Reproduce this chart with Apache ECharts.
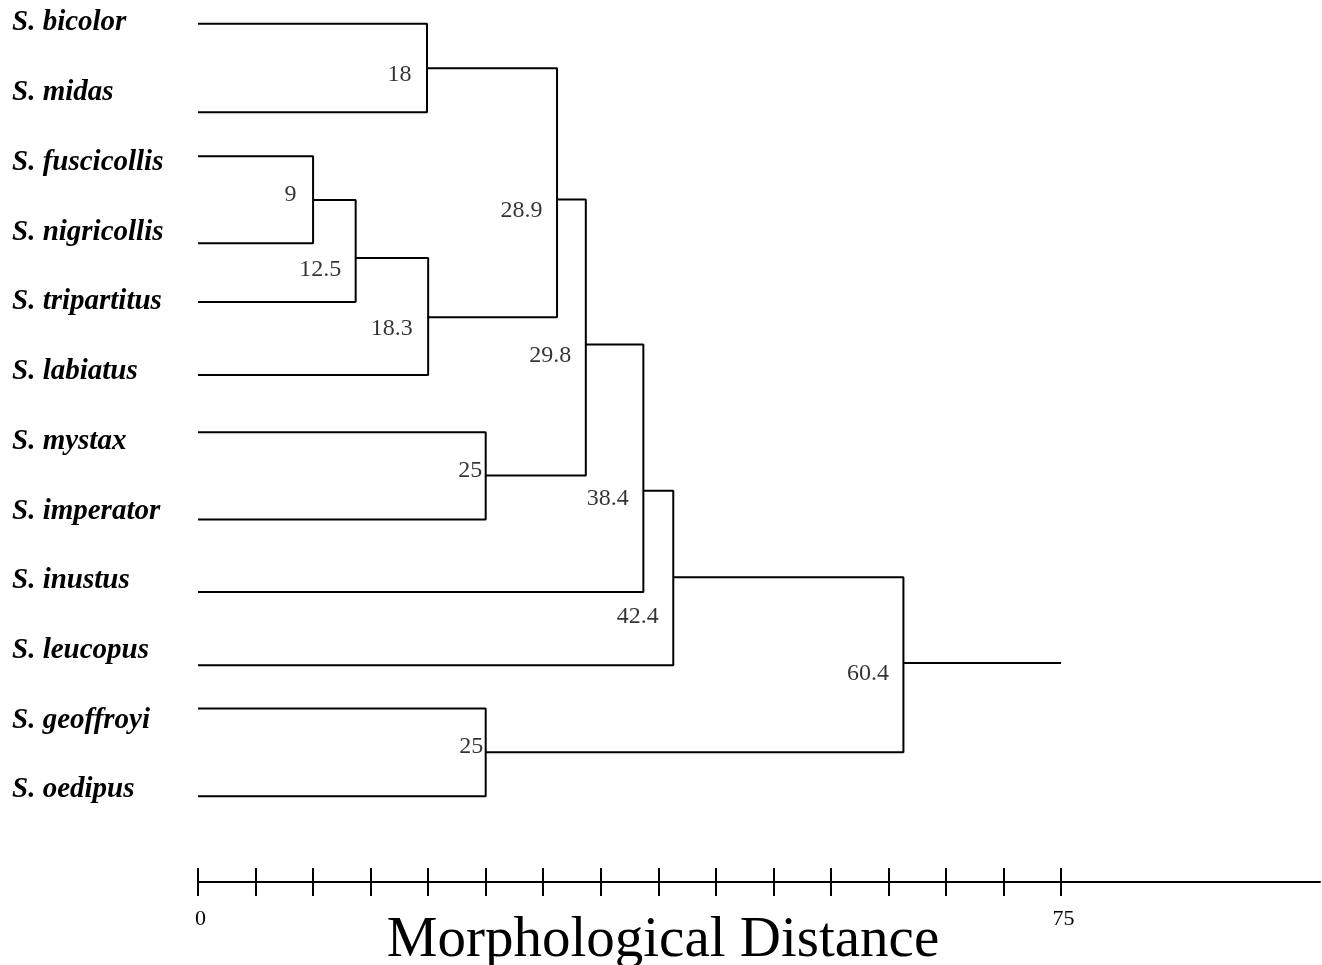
<!DOCTYPE html>
<html>
<head>
<meta charset="utf-8">
<script src="https://cdn.jsdelivr.net/npm/echarts@6/dist/echarts.min.js"></script>
<style>
  html, body { margin: 0; padding: 0; background: #fff; }
  #main { width: 1322px; height: 965px; }
</style>
</head>
<body>
<div id="main"></div>
<script>
// leaves, top to bottom
var species = ['S. bicolor', 'S. midas', 'S. fuscicollis', 'S. nigricollis', 'S. tripartitus', 'S. labiatus',
  'S. mystax', 'S. imperator', 'S. inustus', 'S. leucopus', 'S. geoffroyi', 'S. oedipus'];
// row of each leaf branch (label rows are 0..11)
var leafRows = [0.01, 1.28, 1.91, 3.16, 4.00, 5.05, 5.87, 7.12, 8.16, 9.21, 9.83, 11.09];

// clusters: children are 'L'+leaf index or 'N'+cluster index
var mergeLeft  = ['L0', 'L2', 'N1', 'N2', 'N0', 'L6', 'N4', 'N6', 'N7', 'L10', 'N8'];
var mergeRight = ['L1', 'L3', 'L4', 'L5', 'N3', 'L7', 'N5', 'L8', 'L9', 'L11', 'N9'];
var mergeDist  = [19.9, 10.0, 13.7, 20.0, 31.2, 25.0, 33.7, 38.7, 41.3, 25.0, 61.3];
var mergeRows  = [0.65, 2.54, 3.37, 4.22, 2.53, 6.49, 4.61, 6.71, 7.95, 10.46, 9.18];
var mergeLabels = ['18', '9', '12.5', '18.3', '28.9', '25', '29.8', '38.4', '42.4', '25', '60.4'];
var rootEnd = 75;

var tickValues = [0, 5, 10, 15, 20, 25, 30, 35, 40, 45, 50, 55, 60, 65, 70, 75];
var tickLabels = [0, 75];

// label placement: [gap left of the node, vertical shift]
var labelNudge = [[15, 6], [16, -5], [14, 12], [15, 11], [14, 11], [3, -5], [14, 11], [14, 8], [14, 39], [2, -6], [14, 11]];

function pos(ref) {
  var i = +ref.slice(1);
  return ref[0] === 'L' ? [0, leafRows[i]] : [mergeDist[i], mergeRows[i]];
}

var lineStyle = { color: '#000', width: 2 };
var series = [];
mergeDist.forEach(function (d, i) {
  var a = pos(mergeLeft[i]), b = pos(mergeRight[i]);
  series.push({
    type: 'line', symbol: 'none', silent: true, animation: false,
    lineStyle: lineStyle,
    data: [[a[0], a[1]], [d, a[1]], [d, b[1]], [b[0], b[1]]]
  });
});
var root = mergeDist.length - 1;
series.push({
  type: 'line', symbol: 'none', silent: true, animation: false,
  lineStyle: lineStyle,
  data: [[mergeDist[root], mergeRows[root]], [rootEnd, mergeRows[root]]]
});
series.push({
  type: 'scatter', symbolSize: 1, silent: true, animation: false,
  itemStyle: { color: 'rgba(0,0,0,0)' },
  data: mergeDist.map(function (d, i) {
    return {
      value: [d, mergeRows[i]],
      label: {
        show: true, position: 'left', distance: labelNudge[i][0], offset: [0, labelNudge[i][1]],
        formatter: mergeLabels[i], color: '#000',
        fontFamily: 'Liberation Serif', fontSize: 24
      }
    };
  })
});

var chart = echarts.init(document.getElementById('main'), null, { renderer: 'canvas' });
chart.setOption({
  backgroundColor: '#fff',
  animation: false,
  title: {
    text: 'Morphological Distance',
    left: 663, top: 913, textAlign: 'center', padding: 0,
    textStyle: { fontFamily: 'Liberation Serif', fontSize: 57, fontWeight: 'normal', color: '#000' }
  },
  grid: { left: 198, right: 2, top: 23, bottom: 83, outerBoundsMode: 'none', containLabel: false },
  xAxis: [{
    type: 'value', position: 'bottom', min: 0, max: 97.5,
    axisLine: { show: true, onZero: false, lineStyle: { color: '#000', width: 2 } },
    axisTick: { show: true, customValues: tickValues, length: 14, lineStyle: { color: '#000', width: 2 } },
    axisLabel: { customValues: tickLabels, margin: 26, padding: [0, 0, 0, 5], color: '#000', fontFamily: 'Liberation Serif', fontSize: 22 },
    splitLine: { show: false }
  }, {
    type: 'value', position: 'bottom', offset: 0, min: 0, max: 97.5,
    axisLine: { show: false, onZero: false },
    axisTick: { show: true, inside: true, customValues: tickValues, length: 14, lineStyle: { color: '#000', width: 2 } },
    axisLabel: { show: false },
    splitLine: { show: false }
  }],
  yAxis: {
    type: 'value', inverse: true, min: 0, max: 12.32, interval: 1,
    axisLine: { show: false }, axisTick: { show: false }, splitLine: { show: false },
    axisLabel: {
      align: 'left', margin: 186, padding: [6, 0, 0, 0], color: '#000',
      fontFamily: 'Liberation Serif', fontSize: 29, fontWeight: 'bold', fontStyle: 'italic',
      formatter: function (v) { return Number.isInteger(v) && v < species.length ? species[v] : ''; }
    }
  },
  series: series
});
</script>
</body>
</html>
